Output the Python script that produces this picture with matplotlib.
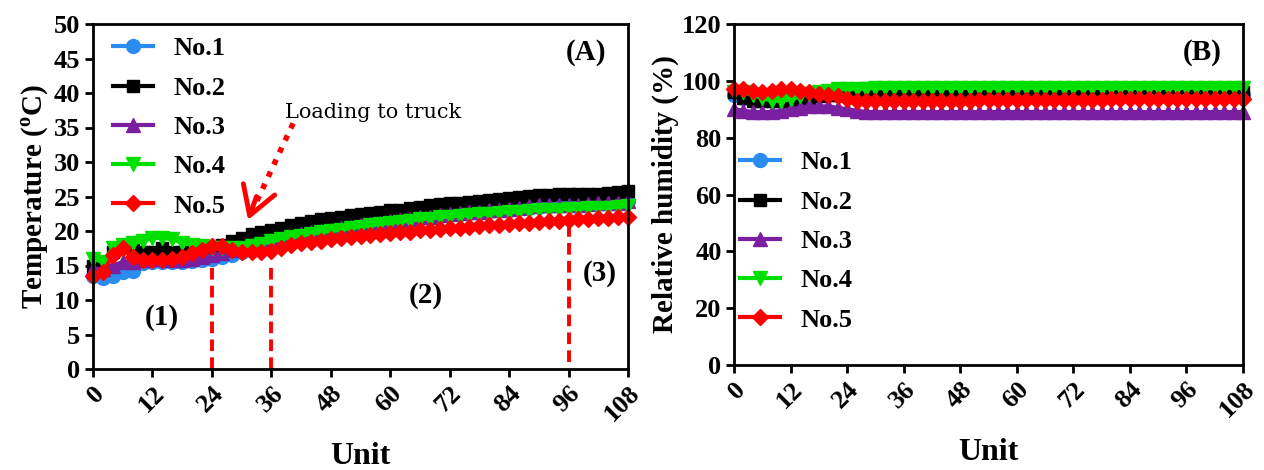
import matplotlib
matplotlib.use("Agg")
import matplotlib.pyplot as plt
import numpy as np

plt.rcParams['font.family'] = ['Liberation Serif', 'DejaVu Serif']
plt.rcParams['mathtext.fontset'] = 'custom'
plt.rcParams['mathtext.rm'] = 'Liberation Serif:bold'
plt.rcParams['mathtext.bf'] = 'Liberation Serif:bold'

# time axis (every 2 units)
unit = np.arange(0, 109, 2)

labels = ["No.1", "No.2", "No.3", "No.4", "No.5"]
colors = ["#2b8cf0", "#000000", "#7a1fa0", "#00e000", "#ff0000"]
markers = ["o", "s", "^", "v", "D"]
msizes = [10, 9, 10, 10, 8]

# temperature (deg C)
temp_1 = [13.5, 13.2, 13.5, 14.0, 14.2, 15.3, 15.5, 15.5, 15.5, 15.5, 15.7, 15.8, 16.0, 16.2,
          16.5, 17.0, 17.5, 18.0, 18.4, 18.8, 19.1, 19.4, 19.7, 19.9, 20.1, 20.3, 20.5, 20.7,
          20.9, 21.1, 21.3, 21.5, 21.7, 21.9, 22.0, 22.2, 22.4, 22.5, 22.6, 22.7, 22.9, 23.0,
          23.1, 23.3, 23.4, 23.5, 23.6, 23.7, 23.7, 23.8, 23.9, 24.0, 24.0, 24.1, 24.3]
temp_2 = [15.0, 15.5, 17.0, 18.0, 17.5, 17.0, 17.0, 17.5, 17.0, 17.0, 17.0, 17.5, 17.5, 18.0,
          18.5, 19.0, 19.5, 19.8, 20.2, 20.5, 20.8, 21.1, 21.4, 21.7, 21.9, 22.1, 22.3, 22.5,
          22.6, 22.8, 23.0, 23.1, 23.3, 23.5, 23.7, 23.9, 24.0, 24.1, 24.2, 24.3, 24.5, 24.6,
          24.8, 25.0, 25.1, 25.2, 25.2, 25.3, 25.3, 25.3, 25.4, 25.4, 25.5, 25.6, 25.8]
temp_3 = [14.5, 14.5, 15.0, 15.5, 15.5, 15.8, 16.0, 16.0, 15.8, 15.8, 16.0, 16.2, 16.5, 16.8,
          17.2, 17.6, 18.0, 18.3, 18.6, 18.9, 19.2, 19.5, 19.8, 20.0, 20.2, 20.4, 20.6, 20.8,
          21.0, 21.2, 21.4, 21.6, 21.8, 22.0, 22.1, 22.3, 22.5, 22.6, 22.7, 22.8, 23.0, 23.1,
          23.2, 23.4, 23.6, 23.8, 23.8, 23.7, 23.7, 23.8, 23.9, 24.0, 24.0, 24.1, 24.3]
temp_4 = [16.0, 15.5, 17.5, 18.0, 18.2, 18.5, 19.0, 19.0, 18.8, 18.3, 18.0, 17.8, 17.6, 17.5,
          17.5, 17.6, 17.8, 18.1, 18.5, 18.8, 19.1, 19.3, 19.6, 19.8, 20.0, 20.2, 20.4, 20.6,
          20.8, 21.0, 21.2, 21.3, 21.5, 21.7, 21.8, 22.0, 22.1, 22.2, 22.3, 22.4, 22.5, 22.6,
          22.7, 22.8, 22.9, 23.0, 23.1, 23.1, 23.2, 23.2, 23.3, 23.3, 23.4, 23.5, 23.6]
temp_5 = [13.5, 14.0, 16.5, 17.5, 16.2, 15.8, 15.8, 15.8, 16.0, 16.3, 16.8, 17.3, 17.8, 17.8,
          17.2, 17.0, 17.0, 17.0, 17.1, 17.6, 18.0, 18.2, 18.4, 18.6, 18.8, 19.0, 19.1, 19.3,
          19.4, 19.6, 19.7, 19.8, 19.9, 20.1, 20.2, 20.3, 20.4, 20.5, 20.6, 20.7, 20.8, 20.9,
          21.0, 21.1, 21.2, 21.3, 21.4, 21.5, 21.6, 21.7, 21.8, 21.9, 21.9, 22.0, 22.1]

# relative humidity (%)
rh_1 = [95.0, 94.0, 94.0, 93.5, 93.5, 93.5, 94.0, 94.0, 94.5, 94.5, 95.0, 95.0, 95.0, 95.0,
        95.0, 95.0, 95.0, 95.0, 95.0, 95.0, 95.0, 95.0, 95.0, 95.0, 95.0, 95.0, 95.0, 95.0,
        95.0, 95.0, 95.0, 95.0, 95.0, 95.0, 95.0, 95.0, 95.0, 95.0, 95.0, 95.0, 95.0, 95.0,
        95.0, 95.0, 95.0, 95.0, 95.0, 95.0, 95.0, 95.0, 95.0, 95.0, 95.0, 95.0, 95.0]
rh_2 = [96.0, 94.0, 93.0, 93.0, 93.0, 93.0, 93.0, 93.5, 94.0, 94.5, 95.0, 95.0, 95.0, 95.0,
        95.0, 95.0, 95.0, 95.0, 95.0, 95.0, 95.0, 95.2, 95.2, 95.2, 95.2, 95.2, 95.3, 95.3,
        95.3, 95.3, 95.3, 95.4, 95.4, 95.4, 95.4, 95.4, 95.5, 95.5, 95.5, 95.5, 95.5, 95.5,
        95.5, 95.5, 95.6, 95.6, 95.6, 95.6, 95.6, 95.7, 95.7, 95.8, 95.8, 95.9, 96.0]
rh_3 = [90.0, 89.5, 89.0, 89.0, 89.0, 89.5, 90.0, 90.5, 91.0, 91.0, 91.0, 90.5, 90.0, 89.5,
        89.0, 89.0, 89.0, 89.0, 89.0, 89.0, 89.0, 89.0, 89.0, 89.0, 89.0, 89.0, 89.0, 89.0,
        89.0, 89.0, 89.0, 89.0, 89.0, 89.0, 89.0, 89.0, 89.0, 89.0, 89.0, 89.0, 89.0, 89.0,
        89.0, 89.0, 89.0, 89.0, 89.0, 89.0, 89.0, 89.0, 89.0, 89.0, 89.0, 89.0, 89.0]
rh_4 = [96.0, 96.0, 95.0, 94.0, 93.0, 93.0, 93.5, 94.5, 95.5, 96.0, 96.5, 97.0, 97.0, 97.2,
        97.3, 97.4, 97.5, 97.5, 97.5, 97.5, 97.5, 97.5, 97.5, 97.5, 97.5, 97.5, 97.5, 97.5,
        97.5, 97.5, 97.5, 97.5, 97.5, 97.5, 97.5, 97.5, 97.5, 97.5, 97.5, 97.5, 97.5, 97.5,
        97.5, 97.5, 97.5, 97.5, 97.5, 97.5, 97.5, 97.5, 97.5, 97.5, 97.5, 97.5, 97.5]
rh_5 = [97.0, 97.0, 96.5, 96.0, 96.5, 97.0, 97.0, 96.5, 96.0, 95.5, 95.0, 94.5, 93.5, 93.0,
        93.0, 93.0, 93.0, 93.0, 93.0, 93.0, 93.0, 93.0, 93.0, 93.0, 93.0, 93.0, 93.2, 93.2,
        93.2, 93.2, 93.3, 93.3, 93.3, 93.3, 93.3, 93.4, 93.4, 93.4, 93.4, 93.4, 93.5, 93.5,
        93.5, 93.5, 93.5, 93.5, 93.5, 93.5, 93.5, 93.5, 93.5, 93.5, 93.5, 93.5, 93.5]

temps = [temp_1, temp_2, temp_3, temp_4, temp_5]
rhs = [rh_1, rh_2, rh_3, rh_4, rh_5]

W, H = 1264, 470
fig = plt.figure(figsize=(W / 100, H / 100), dpi=100)
axA = fig.add_axes([93 / W, 1 - 369 / H, (628 - 93) / W, (369 - 24) / H])
axB = fig.add_axes([734 / W, 1 - 365 / H, (1243 - 734) / W, (365 - 24) / H])

BOLD = {'weight': 'bold', 'size': 19}


def style_axis(ax, ymax, ystep):
    ax.set_xlim(0, 108)
    ax.set_ylim(0, ymax)
    ax.set_xticks(np.arange(0, 109, 12))
    ax.set_yticks(np.arange(0, ymax + 1, ystep))
    for sp in ax.spines.values():
        sp.set_linewidth(2)
    ax.tick_params(direction='out', length=6, width=2, labelsize=19, pad=3)
    for lab in ax.get_xticklabels():
        lab.set_rotation(45)
        lab.set_ha('right')
        lab.set_va('top')
        lab.set_rotation_mode('anchor')
        lab.set_fontweight('bold')
    for lab in ax.get_yticklabels():
        lab.set_fontweight('bold')
    ax.set_xlabel("Unit", fontsize=23, fontweight='bold', labelpad=12)


def add_legend(ax, x_px, y_px):
    ax.legend(loc='upper left', frameon=False, prop=BOLD, labelspacing=0.6,
              handlelength=1.5, handletextpad=0.8, borderpad=0, borderaxespad=0,
              bbox_to_anchor=(x_px / W, 1 - y_px / H), bbox_transform=fig.transFigure)


for vals, lab, c, m, ms in zip(temps, labels, colors, markers, msizes):
    axA.plot(unit, vals, color=c, marker=m, markersize=ms, lw=3, label=lab, clip_on=False)
style_axis(axA, 50, 5)
axA.set_ylabel(r"Temperature ($^{\mathrm{o}}$C)", fontsize=21, fontweight='bold', labelpad=2)
add_legend(axA, 113, 37)

# stage boundaries
dash = (0, (3, 1.6))
axA.vlines([24, 36], 0, [15.0, 15.5], colors='red', linestyles=dash, lw=2.8)
axA.vlines([96], 1.0, [21.5], colors='red', linestyles=dash, lw=2.8)
axA.text(13.9, 7.4, "(1)", fontsize=21, fontweight='bold', ha='center', va='center')
axA.text(67.2, 10.7, "(2)", fontsize=21, fontweight='bold', ha='center', va='center')
axA.text(102.3, 13.8, "(3)", fontsize=21, fontweight='bold', ha='center', va='center')
axA.text(99.5, 45.9, "(A)", fontsize=21, fontweight='bold', ha='center', va='center')
axA.text(38.8, 37.2, "Loading to truck", fontsize=15, family='DejaVu Serif',
         ha='left', va='center')
axA.plot([40.4, 32.6], [35.6, 23.6], color='red', lw=4, ls=(0, (1, 1.4)))
axA.annotate("", xy=(31.3, 21.6), xytext=(33.0, 25.0),
             arrowprops=dict(arrowstyle='->, head_length=1.0, head_width=0.6',
                             mutation_scale=20, color='red', lw=3.5,
                             shrinkA=0, shrinkB=0))

for vals, lab, c, m, ms in zip(rhs, labels, colors, markers, msizes):
    axB.plot(unit, vals, color=c, marker=m, markersize=ms, lw=3, label=lab, clip_on=False)
style_axis(axB, 120, 20)
axB.set_ylabel("Relative humidity (%)", fontsize=21, fontweight='bold', labelpad=2)
add_legend(axB, 740, 151)
axB.text(99.3, 109.8, "(B)", fontsize=21, fontweight='bold', ha='center', va='center')

fig.savefig("out.png", dpi=100)
